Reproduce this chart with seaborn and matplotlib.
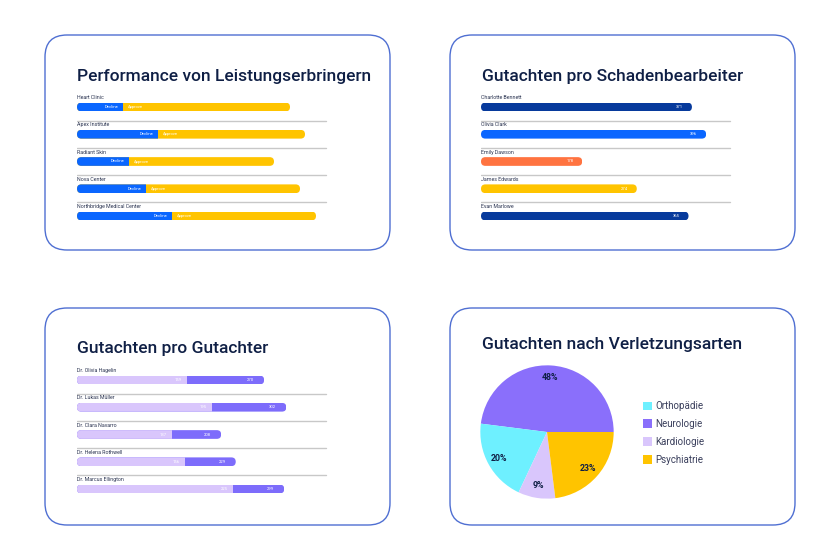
import matplotlib
matplotlib.use("Agg")
import matplotlib.pyplot as plt
import seaborn as sns
import pandas as pd
from matplotlib.patches import FancyBboxPatch, Patch

# data
provider_names = ["Heart Clinic", "Apex Institute", "Radiant Skin", "Nova Center", "Northbridge Medical Center"]
provider_decline = [46, 81, 52, 69, 95]
provider_approve = [167, 147, 145, 154, 144]

handler_names = ["Charlotte Bennett", "Olivia Clark", "Emily Dawson", "James Edwards", "Evan Marlowe"]
handler_counts = [371, 396, 178, 274, 365]

expert_names = ["Dr. Olivia Hagelin", "Dr. Lukas Müller", "Dr. Clara Navarro", "Dr. Helena Rothwell", "Dr. Marcus Ellington"]
expert_first = [159, 195, 137, 156, 225]
expert_second = [111, 107, 71, 73, 74]

injury_types = ["Orthopädie", "Neurologie", "Kardiologie", "Psychiatrie"]
injury_share = [20, 48, 9, 23]

sns.set_theme(style="white")
plt.rcParams["font.family"] = ["Roboto", "DejaVu Sans"]

NAVY = "#0f1f45"
BLUE = "#0a66ff"
YELLOW = "#ffc400"
DARKBLUE = "#073a9c"
ORANGE = "#ff7340"
LILAC = "#d9c6fc"
PURPLE = "#7d6cfb"
CYAN = "#6ef0ff"

W, H = 840, 560
fig = plt.figure(figsize=(W / 100, H / 100), dpi=100)


def px_axes(x0, y0, x1, y1):
    ax = fig.add_axes([x0 / W, 1 - y1 / H, (x1 - x0) / W, (y1 - y0) / H])
    ax.set_zorder(2)
    ax.patch.set_alpha(0)
    return ax


def panel(x0, y0, x1, y1, title, ty):
    box = FancyBboxPatch((x0 / W, 1 - y1 / H), (x1 - x0) / W, (y1 - y0) / H,
                         boxstyle=f"round,pad=0,rounding_size={22 / W}",
                         mutation_aspect=W / H, transform=fig.transFigure,
                         facecolor="white", edgecolor="#4f6fd2", linewidth=1.0, zorder=-1)
    fig.patches.append(box)
    fig.text((x0 + 32) / W, 1 - ty / H, title, fontsize=12.5, fontweight="medium",
             color=NAVY, va="center", ha="left")


def pill(ax, x0, x1, yc, h):
    bb = ax.get_window_extent()
    xl, yl = ax.get_xlim(), ax.get_ylim()
    ux = (xl[1] - xl[0]) / bb.width
    uy = abs(yl[1] - yl[0]) / bb.height
    r = (h / uy) / 2 * ux
    p = FancyBboxPatch((x0, yc - h / 2), x1 - x0, h,
                       boxstyle=f"round,pad=0,rounding_size={r}",
                       mutation_aspect=uy / ux, facecolor="none", edgecolor="none")
    ax.add_patch(p)
    return p


def bar_axes(x0, yc0):
    return px_axes(x0, yc0 - 0.8 * 27.25, x0 + 253, yc0 + 4.6 * 27.25)


def finish(ax, names, xmax):
    ax.set_xlim(0, xmax)
    ax.set_ylim(4.6, -0.8)
    ax.axis("off")
    for i, n in enumerate(names):
        ax.text(0, i - 0.34, n, fontsize=3.8, color="#2a3350", va="center", ha="left")
    for i in range(len(names) - 1):
        ax.plot([0, 249 / 253], [i + 0.5, i + 0.5], transform=ax.get_yaxis_transform(),
                color="#c8c8c8", lw=1)


def clip_rows(ax, ends):
    bars = [p for p in ax.patches if not isinstance(p, FancyBboxPatch)]
    for i, e in enumerate(ends):
        clip = pill(ax, 0, e, i, BH)
        for p in bars:
            if abs(p.get_y() + p.get_height() / 2 - i) < 0.01:
                p.set_clip_path(clip)


BH = 0.32
bar_kw = dict(width=BH, errorbar=None, saturation=1, linewidth=0)

# panel 1
panel(45, 35, 390, 250, "Performance von Leistungserbringern", 76)
ax1 = bar_axes(77, 107)
totals = [d + a for d, a in zip(provider_decline, provider_approve)]
df1 = pd.DataFrame({"name": provider_names, "total": totals, "decline": provider_decline})
sns.barplot(data=df1, x="total", y="name", color=YELLOW, ax=ax1, **bar_kw)
sns.barplot(data=df1, x="decline", y="name", color=BLUE, ax=ax1, **bar_kw)
finish(ax1, provider_names, 253)
clip_rows(ax1, totals)
for i in range(len(provider_names)):
    ax1.text(provider_decline[i] - 253 * 0.018, i, "Decline", fontsize=3, color="white", va="center", ha="right")
    ax1.text(provider_decline[i] + 253 * 0.018, i, "Approve", fontsize=3, color="white", va="center", ha="left")

# panel 2
panel(450, 35, 795, 250, "Gutachten pro Schadenbearbeiter", 76)
ax2 = bar_axes(481, 107)
df2 = pd.DataFrame({"name": handler_names, "n": handler_counts})
sns.barplot(data=df2, x="n", y="name", hue="name", palette=[DARKBLUE, BLUE, ORANGE, YELLOW, DARKBLUE],
            ax=ax2, legend=False, **bar_kw)
finish(ax2, handler_names, 445)
clip_rows(ax2, handler_counts)
for i, v in enumerate(handler_counts):
    ax2.text(v - 445 * 0.035, i, str(v), fontsize=3, color="white", va="center", ha="right")

# panel 3
panel(45, 308, 390, 525, "Gutachten pro Gutachter", 349)
ax3 = bar_axes(77, 380)
tot3 = [a + b for a, b in zip(expert_first, expert_second)]
df3 = pd.DataFrame({"name": expert_names, "total": tot3, "first": expert_first})
sns.barplot(data=df3, x="total", y="name", color=PURPLE, ax=ax3, **bar_kw)
sns.barplot(data=df3, x="first", y="name", color=LILAC, ax=ax3, **bar_kw)
finish(ax3, expert_names, 365)
clip_rows(ax3, tot3)
for i in range(len(expert_names)):
    ax3.text(expert_first[i] - 365 * 0.02, i, str(expert_first[i]), fontsize=3, color="white", va="center", ha="right")
    ax3.text(tot3[i] - 365 * 0.04, i, str(tot3[i]), fontsize=3, color="white", va="center", ha="right")

# panel 4
panel(450, 308, 795, 525, "Gutachten nach Verletzungsarten", 344)
ax4 = px_axes(477, 362, 617, 502)
pie_colors = [CYAN, "#8a6ffb", LILAC, YELLOW]
order = [1, 0, 2, 3]
ax4.pie([injury_share[k] for k in order], colors=[pie_colors[k] for k in order],
        startangle=0, counterclock=True, radius=1,
        wedgeprops=dict(linewidth=0),
        autopct=lambda v: f"{v:.0f}%", pctdistance=0.82,
        textprops=dict(fontsize=6.3, color=NAVY, fontweight="bold"))
ax4.set_xlim(-1.05, 1.05)
ax4.set_ylim(-1.05, 1.05)
ax4.set_aspect("equal")
handles = [Patch(facecolor=c, edgecolor="none", label=l) for c, l in zip(pie_colors, injury_types)]
leg = fig.legend(handles=handles, loc="center left", bbox_to_anchor=(634 / W, 1 - 433 / H),
                 frameon=False, fontsize=7, handlelength=1.0, handleheight=1.0,
                 labelspacing=0.8, handletextpad=0.3, labelcolor="#3a3f5c")
leg.set_zorder(3)

fig.savefig("out.png", dpi=100)
